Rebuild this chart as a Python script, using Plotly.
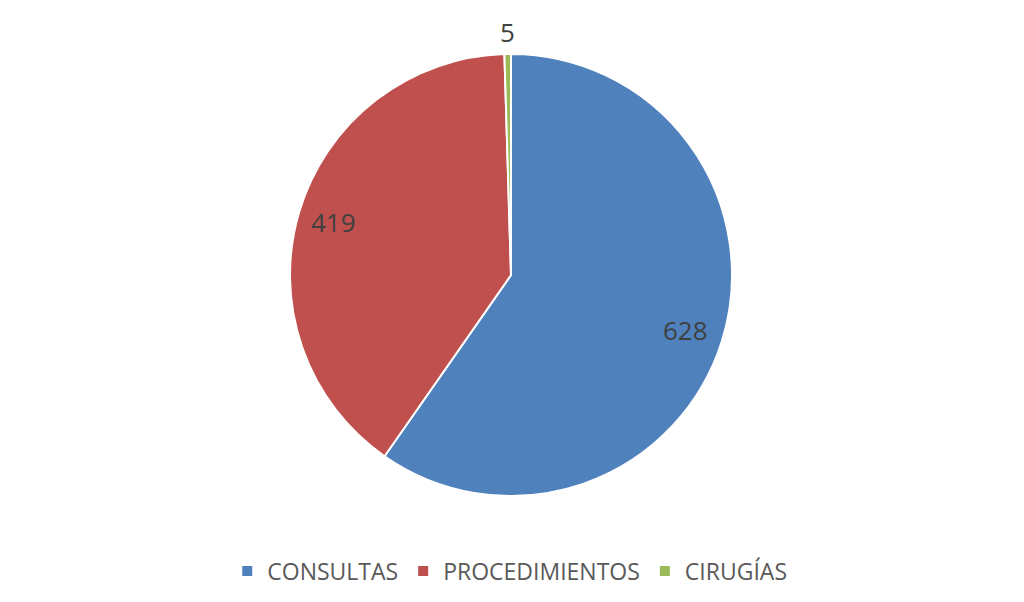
import math
import plotly.graph_objects as go

categories = ["CONSULTAS", "PROCEDIMIENTOS", "CIRUGÍAS"]
values = [628, 419, 5]
colors = ["#4F81BD", "#C0504D", "#9BBB59"]
label_radius = [0.83, 0.84, 1.1]  # fraction of pie radius for each data label

W, H = 1024, 602
FONT = "Open Sans, Liberation Sans, sans-serif"

# pie geometry in figure pixels (page body adds an 8px offset)
cx, cy, R = 503, 267, 221

fig = go.Figure(go.Pie(
    labels=categories,
    values=values,
    sort=False,
    direction="clockwise",
    rotation=0,
    marker=dict(colors=colors, line=dict(color="white", width=2)),
    textinfo="none",
    domain=dict(x=[(cx - R) / W, (cx + R) / W],
                y=[1 - (cy + R) / H, 1 - (cy - R) / H]),
    hoverinfo="label+value",
))

# data labels placed along each slice's bisector, like the original
total = sum(values)
cum = 0
annotations = []
for v, f in zip(values, label_radius):
    mid = (cum + v / 2) / total * 2 * math.pi
    cum += v
    x = cx + f * R * math.sin(mid)
    y = cy - f * R * math.cos(mid)
    annotations.append(dict(
        x=x / W, y=1 - y / H, xref="paper", yref="paper",
        text=str(v), showarrow=False,
        font=dict(family=FONT, size=26, color="#404040"),
        xanchor="center", yanchor="middle",
    ))

fig.update_layout(
    width=W, height=H,
    margin=dict(l=0, r=0, t=0, b=0),
    paper_bgcolor="white",
    showlegend=True,
    annotations=annotations,
    legend=dict(
        orientation="h", x=0.49, xanchor="center", y=1 - 563 / H, yanchor="middle",
        font=dict(family=FONT, size=23, color="#595959"),
        itemwidth=30,
    ),
)
fig.write_html("out.html")
